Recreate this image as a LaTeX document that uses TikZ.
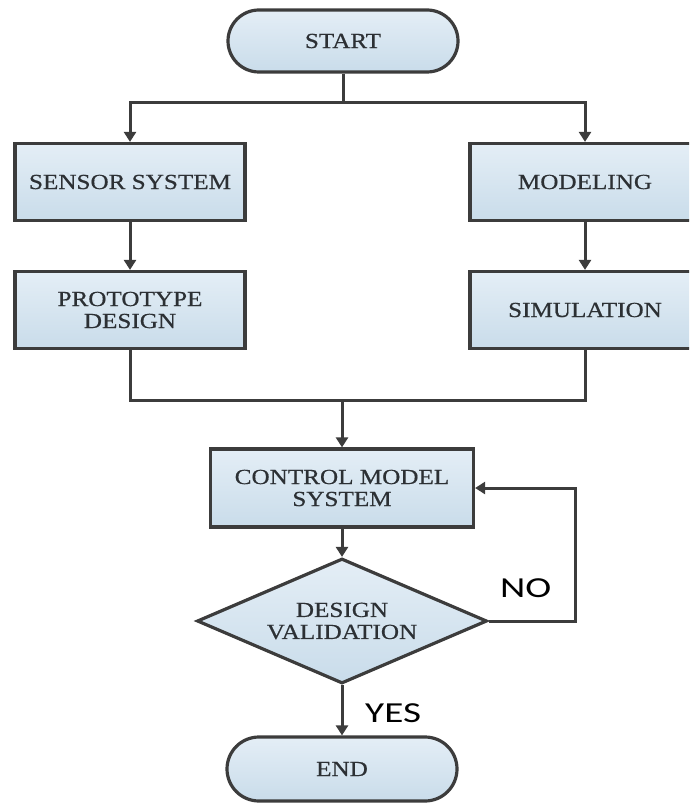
\documentclass[tikz,border=0pt]{standalone}
\usepackage{fontspec}
\setmainfont{Liberation Serif}
\newfontfamily\boxfont[FakeStretch=1.17,FakeBold=0.6]{Liberation Serif}
\newfontfamily\lblfont[FakeStretch=1.35]{Carlito}
\usetikzlibrary{arrows.meta,shapes.geometric,shapes.misc}
\definecolor{edge}{HTML}{3C3C3C}
\definecolor{txt}{HTML}{2C3034}
\definecolor{ftop}{HTML}{E4EEF6}
\definecolor{fbot}{HTML}{C9DCEA}
\tikzset{
  base/.style={draw=edge, line width=3.2pt, top color=ftop, bottom color=fbot,
    text=txt, font=\boxfont\fontsize{21.5}{22}\selectfont, align=center, inner sep=0pt},
  procbox/.style={base, rectangle, minimum width=230pt, minimum height=77pt},
  termbox/.style={base, rounded rectangle, minimum width=230pt, minimum height=62pt},
  decbox/.style={base, diamond, shape aspect=2.32, minimum width=290pt, minimum height=125pt},
  conn/.style={draw=edge, line width=3pt, line join=miter},
  arr/.style={conn, -{Triangle[width=12pt,length=10pt]}},
  lbl/.style={text=black, font=\lblfont\fontsize{29}{30}\selectfont, inner sep=0pt}
}
\begin{document}
\begin{tikzpicture}[x=1pt,y=-1pt]
\useasboundingbox (0,0) rectangle (689,805);
\clip (0,0) rectangle (689,805);
\node[termbox] (start) at (343,41) {START};
\node[procbox] (sensor) at (130,182) {SENSOR SYSTEM};
\node[procbox] (proto) at (130,310) {PROTOTYPE\\DESIGN};
\node[procbox] (model) at (585,182) {MODELING};
\node[procbox] (sim) at (585,310) {SIMULATION};
\node[procbox, minimum width=263pt, minimum height=78pt] (control) at (342,488) {CONTROL MODEL\\SYSTEM};
\node[decbox] (dec) at (342,621) {DESIGN\\VALIDATION};
\node[termbox, minimum height=64pt] (end) at (342,769) {END};
\coordinate (j1) at (343,103);
\coordinate (j2) at (342,400);
\coordinate (lp) at (575,621);
\draw[conn] (start.south) -- (j1);
\draw[arr] (j1) -| (sensor.north);
\draw[arr] (j1) -| (model.north);
\draw[arr] (sensor.south) -- (proto.north);
\draw[arr] (model.south) -- (sim.north);
\draw[conn] (proto.south) |- (j2);
\draw[conn] (sim.south) |- (j2);
\draw[arr] (j2) -- (control.north);
\draw[arr] (control.south) -- (dec.north);
\draw[arr] (dec.east) -- (lp) |- (control.east);
\draw[arr] (dec.south) -- (end.north);
\node[lbl, anchor=south west] (no) at (500,598) {NO};
\node[lbl, anchor=south west] (yes) at (365,723) {YES};
\end{tikzpicture}
\end{document}
